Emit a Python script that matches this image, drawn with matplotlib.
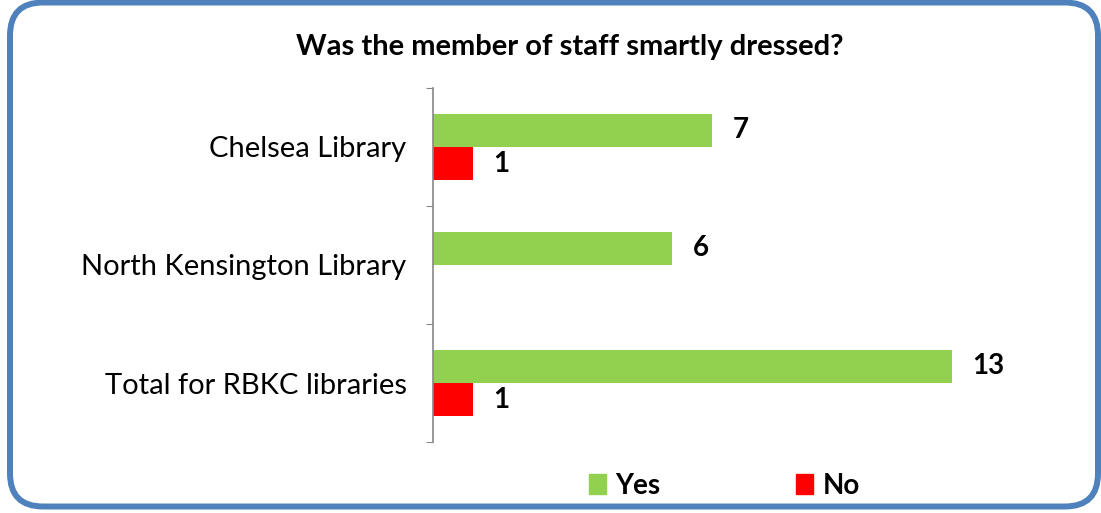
import matplotlib
matplotlib.use("Agg")
from matplotlib import pyplot as plt
from matplotlib.patches import FancyBboxPatch, Patch
import numpy as np

plt.rcParams['font.family'] = ['Lato', 'DejaVu Sans']

categories = ["Chelsea Library", "North Kensington Library", "Total for RBKC libraries"]
yes_vals = [7, 6, 13]
no_vals = [1, 0, 1]
title = "Was the member of staff smartly dressed?"

green = "#92D050"
red = "#FF0000"

W, H = 1101, 513
fig = plt.figure(figsize=(W / 100, H / 100), dpi=100)

# rounded blue frame
frame = FancyBboxPatch((10 / W, 6.5 / H), 1088 / W, 504 / H,
                       boxstyle="round,pad=0,rounding_size=0.03",
                       transform=fig.transFigure, fill=False,
                       edgecolor="#4F81BD", linewidth=4.3, mutation_aspect=W / H)
fig.patches.append(frame)

ax = fig.add_axes([433 / W, (H - 442) / H, 558.6 / W, 354 / H])

y = np.arange(len(categories))
h = 0.28
ax.barh(y - h / 2, yes_vals, height=h, color=green, label="Yes")
ax.barh(y + h / 2, no_vals, height=h, color=red, label="No")

for i in range(len(categories)):
    if yes_vals[i] > 0:
        ax.annotate(str(yes_vals[i]), (yes_vals[i], y[i] - h / 2), xytext=(20, 0),
                    textcoords="offset pixels", va="center", ha="left",
                    fontsize=20, fontweight="bold")
    if no_vals[i] > 0:
        ax.annotate(str(no_vals[i]), (no_vals[i], y[i] + h / 2), xytext=(20, 0),
                    textcoords="offset pixels", va="center", ha="left",
                    fontsize=20, fontweight="bold")

ax.set_xlim(0, 14)
ax.set_ylim(len(categories) - 0.5, -0.5)

ax.set_yticks(np.arange(len(categories) + 1) - 0.5)
ax.set_yticklabels([])
ax.set_yticks(y, minor=True)
ax.set_yticklabels(categories, minor=True, fontsize=21)
ax.tick_params(axis="y", which="major", length=5, color="#888888", direction="out")
ax.tick_params(axis="y", which="minor", length=0, pad=19)
ax.set_xticks([])

for s in ["top", "right", "bottom"]:
    ax.spines[s].set_visible(False)
ax.spines["left"].set_color("#888888")
ax.spines["left"].set_linewidth(1.2)

fig.text(569.5 / W, 1 - 47 / H, title, ha="center", va="center",
         fontsize=21, fontweight="bold")

handles = [Patch(color=green, label="Yes"), Patch(color=red, label="No")]
fig.legend(handles=handles, loc="center", bbox_to_anchor=(724.5 / W, 1 - 486 / H),
           ncol=2, frameon=False, handlelength=0.61, handleheight=0.72,
           handletextpad=0.32, columnspacing=4.9,
           prop={"size": 20, "weight": "bold"})

fig.savefig("out.png", dpi=100)
